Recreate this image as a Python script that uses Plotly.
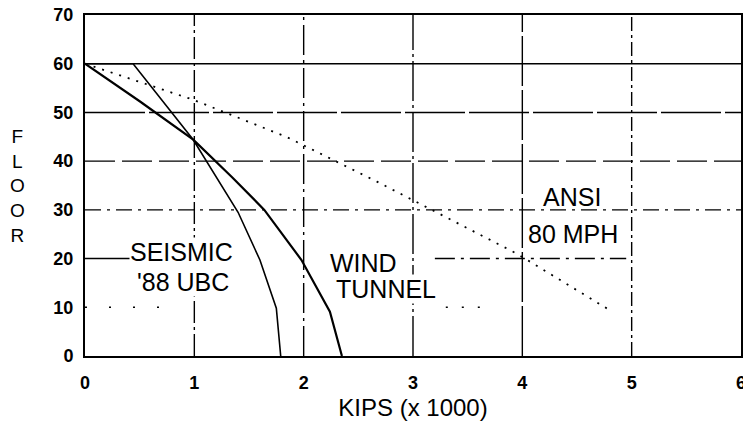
import plotly.graph_objects as go

# ---- data ----
x_ticks = [0, 1, 2, 3, 4, 5, 6]
y_ticks = [0, 10, 20, 30, 40, 50, 60, 70]

seismic_kips = [0, 0.44, 0.99, 1.40, 1.60, 1.75, 1.79]
seismic_floor = [60, 60, 44.4, 29.5, 19.7, 9.8, 0]

wind_kips = [0, 0.5, 0.99, 1.35, 1.64, 1.98, 2.24, 2.35]
wind_floor = [60, 52.3, 44.4, 36.6, 30, 19.7, 9.1, 0]

ansi_kips = [0, 0.99, 1.85, 2.67, 3.95, 4.80]
ansi_floor = [60, 52.6, 44.9, 35.8, 21.0, 9.4]

fig = go.Figure()
fig.add_trace(go.Scatter(x=seismic_kips, y=seismic_floor, mode="lines",
                         line=dict(color="black", width=1.6), name="SEISMIC '88 UBC"))
fig.add_trace(go.Scatter(x=wind_kips, y=wind_floor, mode="lines",
                         line=dict(color="black", width=2.2), name="WIND TUNNEL"))
fig.add_trace(go.Scatter(x=ansi_kips, y=ansi_floor, mode="lines",
                         line=dict(color="black", width=1.8, dash="2px,7px"), name="ANSI 80 MPH"))

# gridlines (styles vary as in the scanned original)
h_styles = {
    60: [((0, 6), "solid")],
    50: [((0, 6), "60px,4px")],
    40: [((0, 6), "30px,7px")],
    30: [((0, 6), "16px,6px,3px,6px")],
    20: [((0, 0.42), "solid"), ((3.2, 4.95), "20px,6px,3px,6px")],
    10: [((0, 0.85), "2px,22px"), ((3.3, 3.65), "2px,14px")],
}
shapes = []
for yv, segs in h_styles.items():
    for (x0, x1), d in segs:
        shapes.append(dict(type="line", xref="x", yref="y", x0=x0, x1=x1, y0=yv, y1=yv,
                           line=dict(color="black", width=1.4, dash=d), layer="below"))
v_styles = {1: "22px,4px,3px,4px", 2: "30px,5px,3px,5px", 3: "40px,4px,3px,4px",
            4: "50px,4px", 5: "14px,4px,3px,4px"}
for xv, d in v_styles.items():
    shapes.append(dict(type="line", xref="x", yref="y", x0=xv, x1=xv, y0=0, y1=70,
                       line=dict(color="black", width=1.4, dash=d), layer="below"))

label_font = dict(family="Liberation Sans, Arial, sans-serif", size=25, color="black")
annotations = [
    dict(x=0.40, y=21.4, text="SEISMIC", xanchor="left", yanchor="middle", showarrow=False,
         font=label_font, bgcolor="white", borderpad=0),
    dict(x=0.47, y=15.2, text="'88 UBC", xanchor="left", yanchor="middle", showarrow=False,
         font=label_font, bgcolor="white", borderpad=0),
    dict(x=2.23, y=19.0, text="WIND", xanchor="left", yanchor="middle", showarrow=False,
         font=label_font, bgcolor="white", borderpad=0),
    dict(x=2.29, y=13.8, text="TUNNEL", xanchor="left", yanchor="middle", showarrow=False,
         font=label_font, bgcolor="white", borderpad=0),
    dict(x=4.17, y=32.6, text="ANSI", xanchor="left", yanchor="middle", showarrow=False,
         font=label_font),
    dict(x=4.03, y=25.1, text="80 MPH", xanchor="left", yanchor="middle", showarrow=False,
         font=label_font),
    dict(xref="paper", yref="paper", x=-0.103, y=0.50, text="F<br>L<br>O<br>O<br>R",
         xanchor="center", yanchor="middle", showarrow=False,
         font=dict(family="Liberation Sans, Arial, sans-serif", size=19, color="black")),
]

tick_font = dict(family="Liberation Sans, Arial, sans-serif", size=18, color="black", weight="bold")

fig.update_layout(
    width=743, height=424,
    margin=dict(l=85, r=2, t=15, b=68),
    paper_bgcolor="white", plot_bgcolor="white",
    showlegend=False,
    shapes=shapes,
    annotations=annotations,
    xaxis=dict(range=[0, 6], tickvals=x_ticks, ticktext=[str(v) for v in x_ticks],
               showgrid=False, zeroline=False, showline=True, linecolor="black", linewidth=2,
               mirror=True, ticks="", tickfont=tick_font, ticklabelstandoff=9,
               automargin=False, ticklabeloverflow="allow",
               title=dict(text="KIPS (x 1000)", standoff=8,
                          font=dict(family="Liberation Sans, Arial, sans-serif", size=24, color="black"))),
    yaxis=dict(range=[0, 70], tickvals=y_ticks, ticktext=[str(v) for v in y_ticks],
               showgrid=False, zeroline=False, showline=True, linecolor="black", linewidth=2,
               mirror=True, ticks="", tickfont=tick_font, ticklabelstandoff=6,
               automargin=False, ticklabeloverflow="allow"),
)

fig.write_html("out.html", config={"displayModeBar": False},
               post_script="document.body.style.margin='0';document.body.style.overflow='hidden';")
